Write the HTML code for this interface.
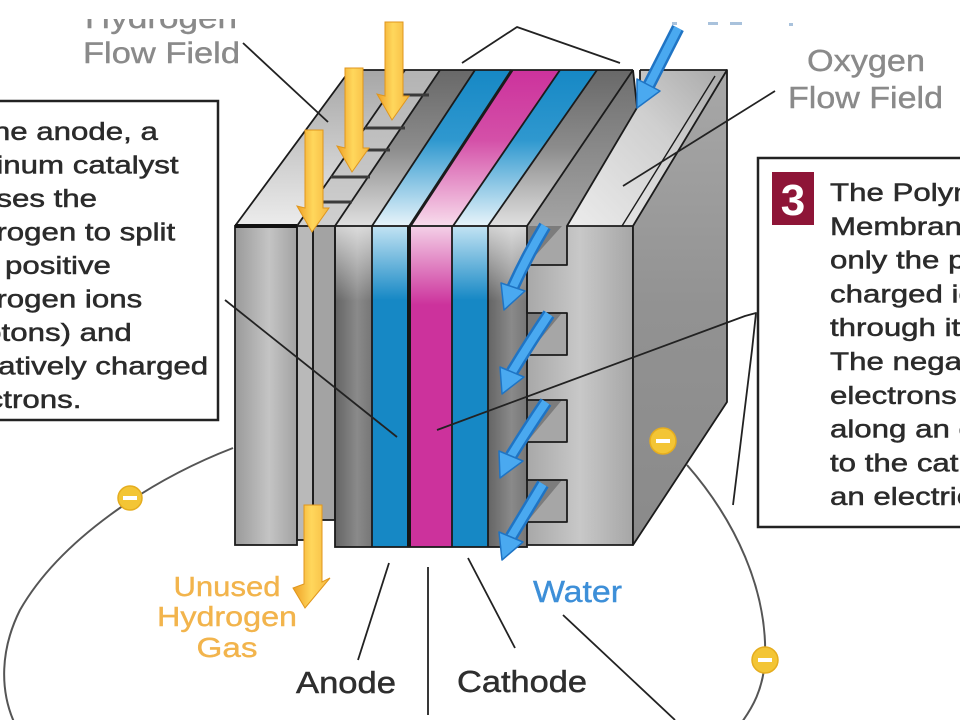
<!DOCTYPE html>
<html><head><meta charset="utf-8"><style>
html,body{margin:0;padding:0;background:#fff;}
body{width:960px;height:720px;overflow:hidden;position:relative;}
svg{position:absolute;left:0;top:0;display:block;}
</style></head><body>
<svg width="960" height="720" viewBox="0 0 960 720" xmlns="http://www.w3.org/2000/svg" font-family="'Liberation Sans', Arial, sans-serif">
<defs>
<linearGradient id="gPlate" x1="0" x2="1" y1="0" y2="0">
 <stop offset="0" stop-color="#9a9a9a"/><stop offset="0.55" stop-color="#c4c4c4"/><stop offset="1" stop-color="#a2a2a2"/>
</linearGradient>
<linearGradient id="gPlateR" gradientUnits="userSpaceOnUse" x1="527" y1="0" x2="633" y2="0">
 <stop offset="0" stop-color="#a8a8a8"/><stop offset="0.5" stop-color="#c8c8c8"/><stop offset="1" stop-color="#a6a6a6"/>
</linearGradient>
<linearGradient id="gGDL" x1="0" x2="1" y1="0" y2="0">
 <stop offset="0" stop-color="#646464"/><stop offset="0.6" stop-color="#8a8a8a"/><stop offset="1" stop-color="#767676"/>
</linearGradient>
<linearGradient id="gFade" x1="0" x2="0" y1="0" y2="1">
 <stop offset="0" stop-color="#fff" stop-opacity="0.7"/><stop offset="1" stop-color="#fff" stop-opacity="0"/>
</linearGradient>
<linearGradient id="gBlueF" gradientUnits="userSpaceOnUse" x1="0" y1="226" x2="0" y2="300">
 <stop offset="0" stop-color="#c2e3f3"/><stop offset="1" stop-color="#1688c5"/>
</linearGradient>
<linearGradient id="gMagF" gradientUnits="userSpaceOnUse" x1="0" y1="226" x2="0" y2="305">
 <stop offset="0" stop-color="#f4d0e7"/><stop offset="1" stop-color="#cc329c"/>
</linearGradient>
<linearGradient id="gBlueT" gradientUnits="userSpaceOnUse" x1="0" y1="70" x2="0" y2="226">
 <stop offset="0" stop-color="#1688c5"/><stop offset="0.45" stop-color="#2f98cf"/><stop offset="1" stop-color="#e8f4fa"/>
</linearGradient>
<linearGradient id="gMagT" gradientUnits="userSpaceOnUse" x1="0" y1="70" x2="0" y2="226">
 <stop offset="0" stop-color="#cc329c"/><stop offset="0.45" stop-color="#d450a8"/><stop offset="1" stop-color="#f8dcec"/>
</linearGradient>
<linearGradient id="gGrayT" gradientUnits="userSpaceOnUse" x1="0" y1="70" x2="0" y2="226">
 <stop offset="0" stop-color="#686868"/><stop offset="0.5" stop-color="#8c8c8c"/><stop offset="1" stop-color="#e0e0e0"/>
</linearGradient>
<linearGradient id="gLightT" gradientUnits="userSpaceOnUse" x1="0" y1="70" x2="0" y2="226">
 <stop offset="0" stop-color="#a6a6a6"/><stop offset="0.6" stop-color="#d0d0d0"/><stop offset="1" stop-color="#ececec"/>
</linearGradient>
<linearGradient id="gWall" gradientUnits="userSpaceOnUse" x1="0" y1="70" x2="0" y2="226">
 <stop offset="0" stop-color="#6e6e6e"/><stop offset="1" stop-color="#a4a4a4"/>
</linearGradient>
<linearGradient id="gRightTop" gradientUnits="userSpaceOnUse" x1="567" y1="226" x2="727" y2="70">
 <stop offset="0" stop-color="#ececec"/><stop offset="0.6" stop-color="#cfcfcf"/><stop offset="1" stop-color="#a8a8a8"/>
</linearGradient>
<linearGradient id="gSide" gradientUnits="userSpaceOnUse" x1="0" y1="70" x2="0" y2="545">
 <stop offset="0" stop-color="#a8a8a8"/><stop offset="0.5" stop-color="#929292"/><stop offset="1" stop-color="#8a8a8a"/>
</linearGradient>
<linearGradient id="gYel" x1="0" x2="1" y1="0" y2="0">
 <stop offset="0" stop-color="#ee9f25"/><stop offset="0.5" stop-color="#ffd75c"/><stop offset="1" stop-color="#f5b840"/>
</linearGradient>
</defs>

<rect x="0" y="0" width="960" height="720" fill="#fff"/>

<!-- TOP FACES -->
<polygon points="235,226 335,226 447,70 350,70" fill="url(#gLightT)"/>
<polygon points="297,226 335,226 447,70 405,70" fill="#bdbdbd" opacity="0.6"/>
<polygon points="335,226 372,226 475,70 440,70" fill="url(#gGrayT)"/>
<polygon points="372,226 410,226 512,70 475,70" fill="url(#gBlueT)"/>
<polygon points="410,226 453,226 560,70 512,70" fill="url(#gMagT)"/>
<polygon points="453,226 488,226 597,70 560,70" fill="url(#gBlueT)"/>
<polygon points="488,226 527,226 633,70 597,70" fill="url(#gGrayT)"/>
<polygon points="527,226 567,226 638,105 633,70" fill="url(#gWall)"/>
<polygon points="567,226 633,226 727,70 640,70 640,104" fill="url(#gRightTop)"/>
<polygon points="633,70 640,70 640,104 637,108" fill="#fff"/>
<g stroke="#1b1b1b" stroke-width="1.8" fill="none" stroke-linejoin="round">
 <polyline points="235,226 350,70 633,70"/>
 <line x1="640" y1="70" x2="727" y2="70"/>
 <line x1="297" y1="226" x2="405" y2="70"/>
 <line x1="335" y1="226" x2="440" y2="70"/>
 <line x1="372" y1="226" x2="475" y2="70"/>
 <line x1="410" y1="226" x2="512" y2="70" stroke-width="3"/>
 <line x1="453" y1="226" x2="560" y2="70"/>
 <line x1="488" y1="226" x2="597" y2="70"/>
 <line x1="527" y1="226" x2="633" y2="70"/>
 <line x1="567" y1="226" x2="638" y2="106"/>
 <line x1="633" y1="70" x2="637" y2="107"/>
 <line x1="640" y1="70" x2="640" y2="104"/>
 <line x1="622" y1="226" x2="715" y2="76" stroke-width="1.4"/>
</g>
<!-- hydrogen channel ledges -->
<g stroke="#3a3a3a" stroke-width="3">
 <line x1="388" y1="95" x2="429" y2="95"/>
 <line x1="365" y1="128" x2="405" y2="128"/>
 <line x1="350" y1="150" x2="390" y2="150"/>
 <line x1="331" y1="177" x2="370" y2="177"/>
 <line x1="314" y1="202" x2="352" y2="202"/>
</g>

<!-- FRONT FACES -->
<rect x="235" y="226" width="62" height="319" fill="url(#gPlate)"/>
<rect x="297" y="226" width="16" height="314" fill="#b9b9b9"/>
<rect x="313" y="226" width="22" height="294" fill="#a3a3a3"/>
<rect x="335" y="226" width="37" height="321" fill="url(#gGDL)"/>
<rect x="372" y="226" width="36" height="321" fill="url(#gBlueF)"/>
<rect x="407" y="226" width="4" height="321" fill="#151515"/>
<rect x="411" y="226" width="41" height="321" fill="url(#gMagF)"/>
<rect x="452" y="226" width="36" height="321" fill="url(#gBlueF)"/>
<rect x="488" y="226" width="39" height="321" fill="url(#gGDL)"/>
<rect x="335" y="226" width="37" height="75" fill="url(#gFade)"/>
<rect x="488" y="226" width="39" height="75" fill="url(#gFade)"/>

<!-- notches -->
<g>
 <rect x="527" y="226" width="40" height="39" fill="#a6a6a6"/>
 <polygon points="527,226 562,226 527,265" fill="#7c7c7c"/>
 <rect x="527" y="313" width="40" height="42" fill="#a6a6a6"/>
 <polygon points="527,313 562,313 527,355" fill="#7c7c7c"/>
 <rect x="527" y="400" width="40" height="42" fill="#a6a6a6"/>
 <polygon points="527,400 562,400 527,442" fill="#7c7c7c"/>
 <rect x="527" y="480" width="40" height="42" fill="#a6a6a6"/>
 <polygon points="527,480 562,480 527,522" fill="#7c7c7c"/>
</g>
<polygon points="567,226 633,226 633,545 527,545 527,522 567,522 567,480 527,480 527,442 567,442 567,400 527,400 527,355 567,355 567,313 527,313 527,265 567,265" fill="url(#gPlateR)" stroke="#1b1b1b" stroke-width="1.8" stroke-linejoin="round"/>

<!-- right side face -->
<polygon points="633,226 727,70 727,402 633,545" fill="url(#gSide)" stroke="#1b1b1b" stroke-width="1.8" stroke-linejoin="round"/>

<!-- front outlines -->
<g stroke="#1b1b1b" stroke-width="1.8" fill="none">
 <rect x="235" y="226" width="62" height="319"/>
 <rect x="297" y="226" width="16" height="314"/>
 <rect x="313" y="226" width="22" height="294"/>
 <rect x="335" y="226" width="192" height="321"/>
 <line x1="372" y1="226" x2="372" y2="547"/>
 <line x1="452" y1="226" x2="452" y2="547"/>
 <line x1="488" y1="226" x2="488" y2="547"/>
</g>
<line x1="235" y1="226" x2="297" y2="226" stroke="#111" stroke-width="4"/>

<!-- YELLOW ARROWS -->
<g fill="url(#gYel)" stroke="#e0961c" stroke-width="1">
 <path d="M385,22 L403,22 L403,96 L409,96 L392,120 L377,94 L385,96 Z"/>
 <path d="M345,68 L363,68 L363,148 L369,148 L352,172 L337,146 L345,148 Z"/>
 <path d="M305,130 L323,130 L323,208 L329,208 L312,232 L297,206 L305,208 Z"/>
 <path d="M304,505 L322,505 L322,582 L330,578 L305,608 L293,588 L304,584 Z"/>
</g>

<!-- BLUE ARROWS -->
<g fill="none" stroke-linecap="butt">
 <g stroke="#1f74c4" stroke-width="13">
  <path d="M678,28 L649,85"/>
  <path d="M545,226 Q527,256 513,287"/>
  <path d="M549,314 Q529,344 512,372"/>
  <path d="M546,402 Q527,430 511,456"/>
  <path d="M543,484 Q526,512 511,537"/>
 </g>
 <g stroke="#4aa9f0" stroke-width="8">
  <path d="M678,28 L649,85"/>
  <path d="M545,226 Q527,256 513,287"/>
  <path d="M549,314 Q529,344 512,372"/>
  <path d="M546,402 Q527,430 511,456"/>
  <path d="M543,484 Q526,512 511,537"/>
 </g>
</g>
<g fill="#4aa9f0" stroke="#1f74c4" stroke-width="1.5" stroke-linejoin="round">
 <polygon points="637,108 660,91 637,79"/>
 <polygon points="504,310 525,291 501,283"/>
 <polygon points="502,394 524,377 500,367"/>
 <polygon points="500,478 523,461 499,451"/>
 <polygon points="502,560 523,542 499,532"/>
</g>

<!-- WIRES -->
<g stroke="#555" stroke-width="2" fill="none">
 <path d="M233,448 C150,480 60,540 20,610 C0,650 0,690 14,722"/>
 <path d="M687,465 C735,520 768,590 765,660 C763,690 752,708 742,722"/>
</g>

<!-- POINTER LINES -->
<g stroke="#222" stroke-width="1.8" fill="none" stroke-linejoin="round">
 <line x1="243" y1="43" x2="328" y2="122"/>
 <polyline points="462,63 517,27 620,63"/>
 <line x1="225" y1="300" x2="397" y2="437"/>
 <polyline points="437,430 745,316 756,313 752,350 733,505"/>
 <line x1="775" y1="91" x2="623" y2="186"/>
 <line x1="389" y1="563" x2="358" y2="660"/>
 <line x1="428" y1="567" x2="428" y2="715"/>
 <line x1="468" y1="558" x2="515" y2="648"/>
 <line x1="563" y1="615" x2="675" y2="720"/>
</g>

<!-- electrons -->
<g>
 <circle cx="130" cy="498" r="12" fill="#f3c535" stroke="#e5ad1f" stroke-width="1.5"/>
 <rect x="123" y="496" width="14" height="4" fill="#fff"/>
 <circle cx="663" cy="441" r="13" fill="#f3c535" stroke="#e5ad1f" stroke-width="1.5"/>
 <rect x="656" y="439" width="14" height="4" fill="#fff"/>
 <circle cx="765" cy="660" r="13" fill="#f3c535" stroke="#e5ad1f" stroke-width="1.5"/>
 <rect x="758" y="658" width="14" height="4" fill="#fff"/>
</g>

<!-- top labels -->
<text x="85" y="28" font-size="30" fill="#8a8a8a" stroke="#8a8a8a" stroke-width="0.4" textLength="152" lengthAdjust="spacingAndGlyphs">Hydrogen</text>
<rect x="60" y="0" width="210" height="19" fill="#fff"/>
<g fill="#8a8a8a" stroke="#8a8a8a" stroke-width="0.4">
<text x="83" y="63" font-size="30" textLength="157" lengthAdjust="spacingAndGlyphs">Flow Field</text>
<text x="807" y="71" font-size="31" textLength="118" lengthAdjust="spacingAndGlyphs">Oxygen</text>
<text x="788" y="108" font-size="31" textLength="155" lengthAdjust="spacingAndGlyphs">Flow Field</text>
</g>
<g fill="#a9c2dc">
 <rect x="672" y="22" width="5" height="3"/>
 <rect x="708" y="22" width="10" height="3"/>
 <rect x="730" y="22" width="12" height="3"/>
 <rect x="789" y="23" width="4" height="3"/>
</g>

<!-- bottom labels -->
<g fill="#2e2e2e" stroke="#2e2e2e" stroke-width="0.5">
<text x="296" y="693" font-size="31" textLength="100" lengthAdjust="spacingAndGlyphs">Anode</text>
<text x="457" y="692" font-size="31" textLength="130" lengthAdjust="spacingAndGlyphs">Cathode</text>
</g>
<text x="533" y="602" font-size="31" fill="#3d8fd8" stroke="#3d8fd8" stroke-width="0.4" textLength="89" lengthAdjust="spacingAndGlyphs">Water</text>
<g fill="#f2b44c" stroke="#f2b44c" stroke-width="0.4" font-size="28" text-anchor="middle">
 <text x="227" y="596" textLength="107" lengthAdjust="spacingAndGlyphs">Unused</text>
 <text x="227" y="626" textLength="140" lengthAdjust="spacingAndGlyphs">Hydrogen</text>
 <text x="227" y="657" textLength="61" lengthAdjust="spacingAndGlyphs">Gas</text>
</g>

<!-- LEFT TEXT BOX -->
<rect x="-5" y="101" width="223" height="319" fill="#fff" stroke="#222" stroke-width="2.5"/>
<g transform="translate(-54 0) scale(1.25 1)" font-size="25" fill="#2b2b2b" stroke="#2b2b2b" stroke-width="0.5">
 <text x="0" y="140">At the anode, a</text>
 <text x="0" y="173.5">platinum catalyst</text>
 <text x="0" y="207">causes the</text>
 <text x="0" y="240.5">hydrogen to split</text>
 <text x="0" y="274">into positive</text>
 <text x="0" y="307.5">hydrogen ions</text>
 <text x="0" y="341">(protons) and</text>
 <text x="0" y="374.5">negatively charged</text>
 <text x="0" y="408">electrons.</text>
</g>

<!-- RIGHT TEXT BOX -->
<rect x="758" y="158" width="215" height="369" fill="#fff" stroke="#222" stroke-width="2.5"/>
<rect x="772" y="172" width="42" height="53" fill="#8e1537"/>
<text x="793" y="215" font-size="44" font-weight="bold" fill="#fff" text-anchor="middle">3</text>
<g transform="translate(830 0) scale(1.25 1)" font-size="25" fill="#2b2b2b" stroke="#2b2b2b" stroke-width="0.5">
 <text x="0" y="201">The Polymer Electrolyte</text>
 <text x="0" y="234.8">Membrane (PEM) allows</text>
 <text x="0" y="268.6">only the positively</text>
 <text x="0" y="302.4">charged ions to pass</text>
 <text x="0" y="336.2">through it to the cathode.</text>
 <text x="0" y="370">The negatively charged</text>
 <text x="0" y="403.8">electrons must travel</text>
 <text x="0" y="437.6">along an external circuit</text>
 <text x="0" y="471.4">to the cathode, creating</text>
 <text x="0" y="505.2">an electrical current.</text>
</g>
</svg>
</body></html>
